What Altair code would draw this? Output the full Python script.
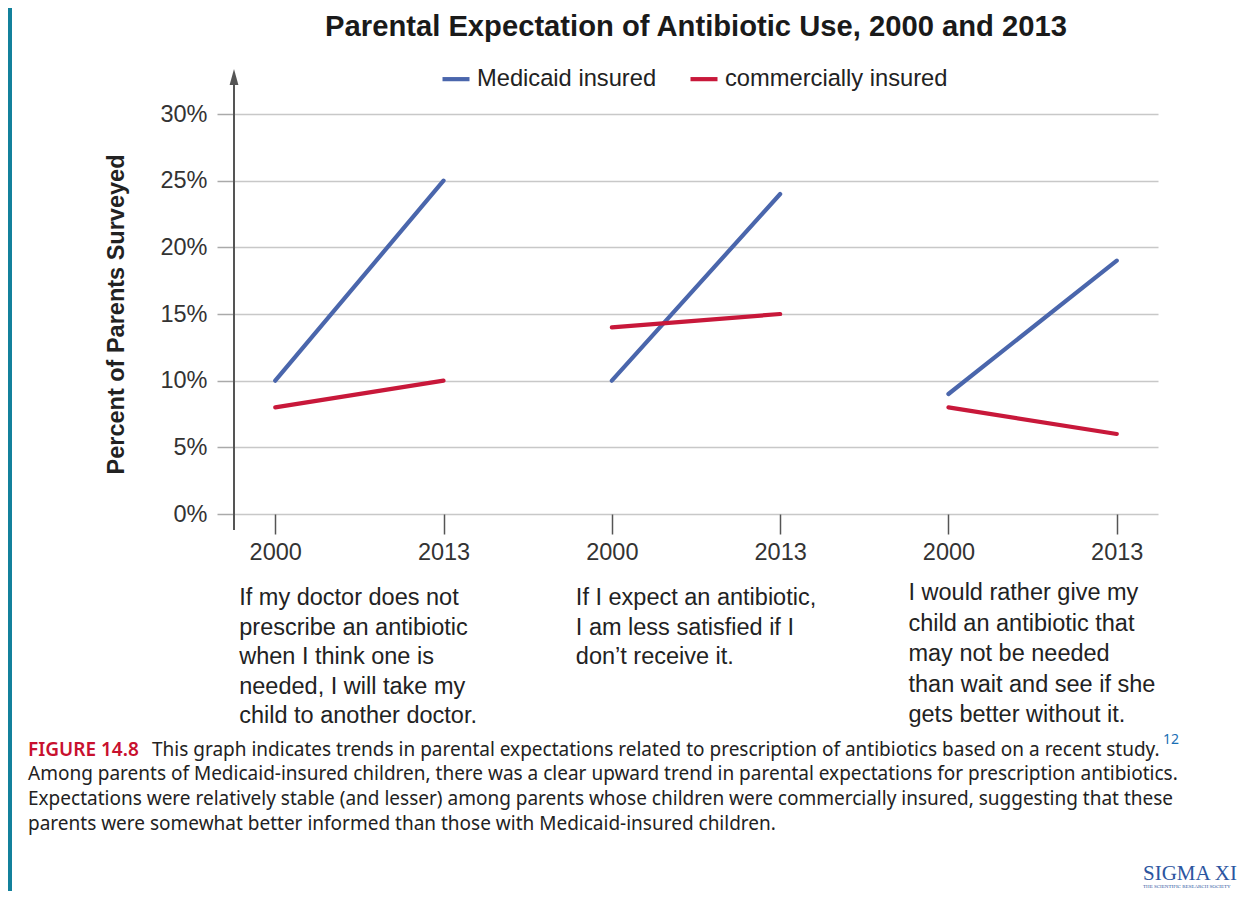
import altair as alt
import pandas as pd

# ---------------- data ----------------
chart_title = "Parental Expectation of Antibiotic Use, 2000 and 2013"
statements = [
    "If my doctor does not\nprescribe an antibiotic\nwhen I think one is\nneeded, I will take my\nchild to another doctor.",
    "If I expect an antibiotic,\nI am less satisfied if I\ndon\u2019t receive it.",
    "I would rather give my\nchild an antibiotic that\nmay not be needed\nthan wait and see if she\ngets better without it.",
]
statement_ids = ["A", "B", "C"]
years = ["2000", "2013"]
series = ["Medicaid insured", "commercially insured"]
medicaid = [[10, 25], [10, 24], [9, 19]]
commercial = [[8, 10], [14, 15], [8, 6]]
y_ticks = [0, 5, 10, 15, 20, 25, 30]
colors = ["#4a66ac", "#c8183a"]

caption_head = "FIGURE 14.8"
caption_line1 = "This graph indicates trends in parental expectations related to prescription of antibiotics based on a recent study."
caption_rest = (
    "Among parents of Medicaid-insured children, there was a clear upward trend in parental expectations for prescription antibiotics.\n"
    "Expectations were relatively stable (and lesser) among parents whose children were commercially insured, suggesting that these\n"
    "parents were somewhat better informed than those with Medicaid-insured children."
)
footnote = "12"

# ---------------- tables ----------------
keys = [f"{s}|{y}" for s in statement_ids for y in years]
rows = []
for si, sid in enumerate(statement_ids):
    for yi, yr in enumerate(years):
        rows.append({"key": f"{sid}|{yr}", "group": f"{sid}-M", "series": series[0], "value": medicaid[si][yi]})
        rows.append({"key": f"{sid}|{yr}", "group": f"{sid}-C", "series": series[1], "value": commercial[si][yi]})
df = pd.DataFrame(rows)

st_df = pd.DataFrame({"key": [f"{s}|2000" for s in statement_ids], "sid": statement_ids, "text": statements})

FONT = "Liberation Sans"
CAPFONT = "Noto Sans"

x_scale = alt.Scale(type="point", domain=keys, padding=0.245)
y_scale = alt.Scale(domain=[0, 33.3], nice=False, zero=True)
x_axis = alt.Axis(title=None, labelExpr="split(datum.label, '|')[1]", domain=False,
                  tickSize=20, tickColor="#555", tickWidth=1.5, labelFontSize=23.5,
                  labelColor="#333", labelPadding=6, grid=False, labelAngle=0,
                  labelFont=FONT)

lines = alt.Chart(df).mark_line(strokeWidth=4.2, strokeCap="round").encode(
    x=alt.X("key:N", scale=x_scale, sort=keys, axis=x_axis),
    y=alt.Y("value:Q", scale=y_scale,
            axis=alt.Axis(values=y_ticks, labelExpr="datum.value + '%'", tickSize=17,
                          tickColor="#aaa", tickWidth=1.5, domain=False, grid=True,
                          gridColor="#c8c8c8", gridWidth=1.5, labelFontSize=23.5,
                          labelColor="#333", labelPadding=10, labelFont=FONT,
                          title="Percent of Parents Surveyed", titleFontSize=23.5,
                          titleFontWeight="bold", titleColor="#222", titleFont=FONT,
                          titleAngle=270, titleX=-118, titleY=244, titleAlign="center",
                          titleBaseline="middle")),
    color=alt.Color("series:N", scale=alt.Scale(domain=series, range=colors),
                    legend=alt.Legend(title=None, orient="none", legendX=206, legendY=-7,
                                      direction="horizontal", symbolType="stroke",
                                      symbolSize=729, symbolStrokeWidth=4.2,
                                      labelFontSize=23.7, labelFont=FONT, labelColor="#222",
                                      labelOffset=5, columnPadding=25, labelLimit=400)),
    detail="group:N",
)

one = pd.DataFrame({"a": [0]})

axis_line = alt.Chart(one).mark_rule(color="#555", strokeWidth=2).encode(
    x=alt.value(0), y=alt.value(8), y2=alt.value(460))
arrow = alt.Chart(one).mark_point(
    shape="M 0 -1 L 0.55 1 L -0.55 1 Z", filled=True, color="#555", size=256, opacity=1
).encode(x=alt.value(0), y=alt.value(7))

title_mark = alt.Chart(one).mark_text(align="center", baseline="alphabetic", fontSize=29.2,
                                      fontWeight="bold", color="#1a1a1a", font=FONT).encode(
    x=alt.value(462), y=alt.value(-34), text=alt.value(chart_title))

st_text_ab = alt.Chart(st_df).transform_filter("datum.sid != 'C'").mark_text(
    align="left", baseline="alphabetic", fontSize=23.5, lineHeight=29.6, lineBreak="\n",
    dx=-36, color="#222", font=FONT
).encode(x=alt.X("key:N", scale=x_scale, axis=x_axis), y=alt.value(535), text="text:N")
st_text_c = alt.Chart(st_df).transform_filter("datum.sid == 'C'").mark_text(
    align="left", baseline="alphabetic", fontSize=23.5, lineHeight=30.5, lineBreak="\n",
    dx=-40, color="#222", font=FONT
).encode(x=alt.X("key:N", scale=x_scale, axis=x_axis), y=alt.value(530), text="text:N")

cap_head = alt.Chart(one).mark_text(align="left", baseline="alphabetic", fontSize=19,
                                    fontWeight=600, color="#c8102e", font=CAPFONT).encode(
    x=alt.value(-206), y=alt.value(685.5), text=alt.value(caption_head))
cap_l1 = alt.Chart(one).mark_text(align="left", baseline="alphabetic", fontSize=19,
                                  color="#222", font=CAPFONT).encode(
    x=alt.value(-82), y=alt.value(685.5), text=alt.value(caption_line1))
cap_rest = alt.Chart(one).mark_text(align="left", baseline="alphabetic", fontSize=19,
                                    lineHeight=24.8, lineBreak="\n", color="#222",
                                    font=CAPFONT).encode(
    x=alt.value(-206), y=alt.value(710.3), text=alt.value(caption_rest))
cap_note = alt.Chart(one).mark_text(align="left", baseline="alphabetic", fontSize=14,
                                    color="#1a6fb5", font=CAPFONT).encode(
    x=alt.value(929), y=alt.value(674), text=alt.value(footnote))

side_bar = alt.Chart(one).mark_rule(color="#13819c", strokeWidth=4).encode(
    x=alt.value(-224), y=alt.value(-62), y2=alt.value(830))

logo = alt.Chart(one).mark_text(align="left", baseline="alphabetic", fontSize=21,
                                color="#2c55a0", font="Liberation Serif").encode(
    x=alt.value(909), y=alt.value(810), text=alt.value("SIGMA XI"))
logo_sub = alt.Chart(one).mark_text(align="left", baseline="alphabetic", fontSize=5,
                                    color="#2c55a0", font="Liberation Serif").encode(
    x=alt.value(909), y=alt.value(818), text=alt.value("THE SCIENTIFIC RESEARCH SOCIETY"))

chart = alt.layer(
    side_bar, lines, axis_line, arrow, title_mark, st_text_ab, st_text_c,
    cap_head, cap_l1, cap_rest, cap_note, logo, logo_sub
).properties(
    width=924, height=444,
    padding={"left": 226, "top": 62, "right": 80, "bottom": 377},
    autosize=alt.AutoSizeParams(type="none"),
    background="white",
).configure_view(stroke=None)

chart.save("out.html", embed_options={"renderer": "svg", "actions": False})
